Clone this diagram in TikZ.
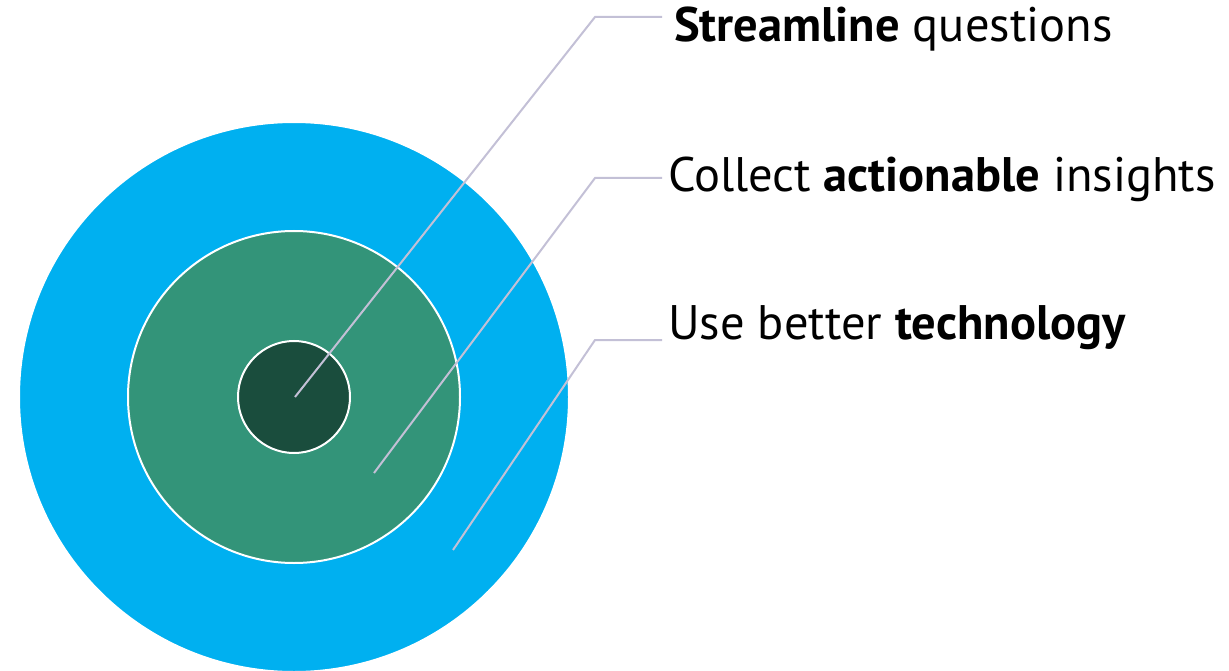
\documentclass[tikz,border=0pt]{standalone}
\usepackage{fontspec}
\setmainfont{PT Sans}
\definecolor{ringblue}{HTML}{00B0F0}
\definecolor{ringgreen}{HTML}{339479}
\definecolor{ringdark}{HTML}{1A4D3D}
\definecolor{leader}{HTML}{C3C0D6}
\begin{document}
\begin{tikzpicture}[x=1pt, y=-1pt,
    ring/.style={draw=white, line width=2pt},
    leaderline/.style={draw=leader, line width=2pt},
    label/.style={anchor=base west, inner xsep=6pt, inner ysep=0pt,
      font=\fontsize{48.5}{52}\selectfont}]
    \useasboundingbox (0,0) rectangle (1229,671);

    % Three nested rings
    \path[ring, fill=ringblue] (294,397) circle (275);
    \path[ring, fill=ringgreen] (294,397) circle (166);
    \path[ring, fill=ringdark] (294,397) circle (56);

    % Free ends of the leaders and their bends
    \coordinate (p1) at (295,397);
    \coordinate (p2) at (374,473);
    \coordinate (p3) at (453,550);
    \coordinate (k1) at (595,17);
    \coordinate (k2) at (595,178);
    \coordinate (k3) at (595,340);

    % Labels
    \node[label, inner xsep=12pt] (s1) at (662,42) {\textbf{Streamline} questions};
    \node[label] (s2) at (662,192) {Collect \textbf{actionable} insights};
    \node[label] (s3) at (662,339) {Use better \textbf{technology}};

    % Leaders from the rings to the labels
    \draw[leaderline] (p1) -- (k1) -- (k1 -| s1.west);
    \draw[leaderline] (p2) -- (k2) -- (k2 -| s2.west);
    \draw[leaderline] (p3) -- (k3) -- (k3 -| s3.west);
  \end{tikzpicture}
\end{document}
